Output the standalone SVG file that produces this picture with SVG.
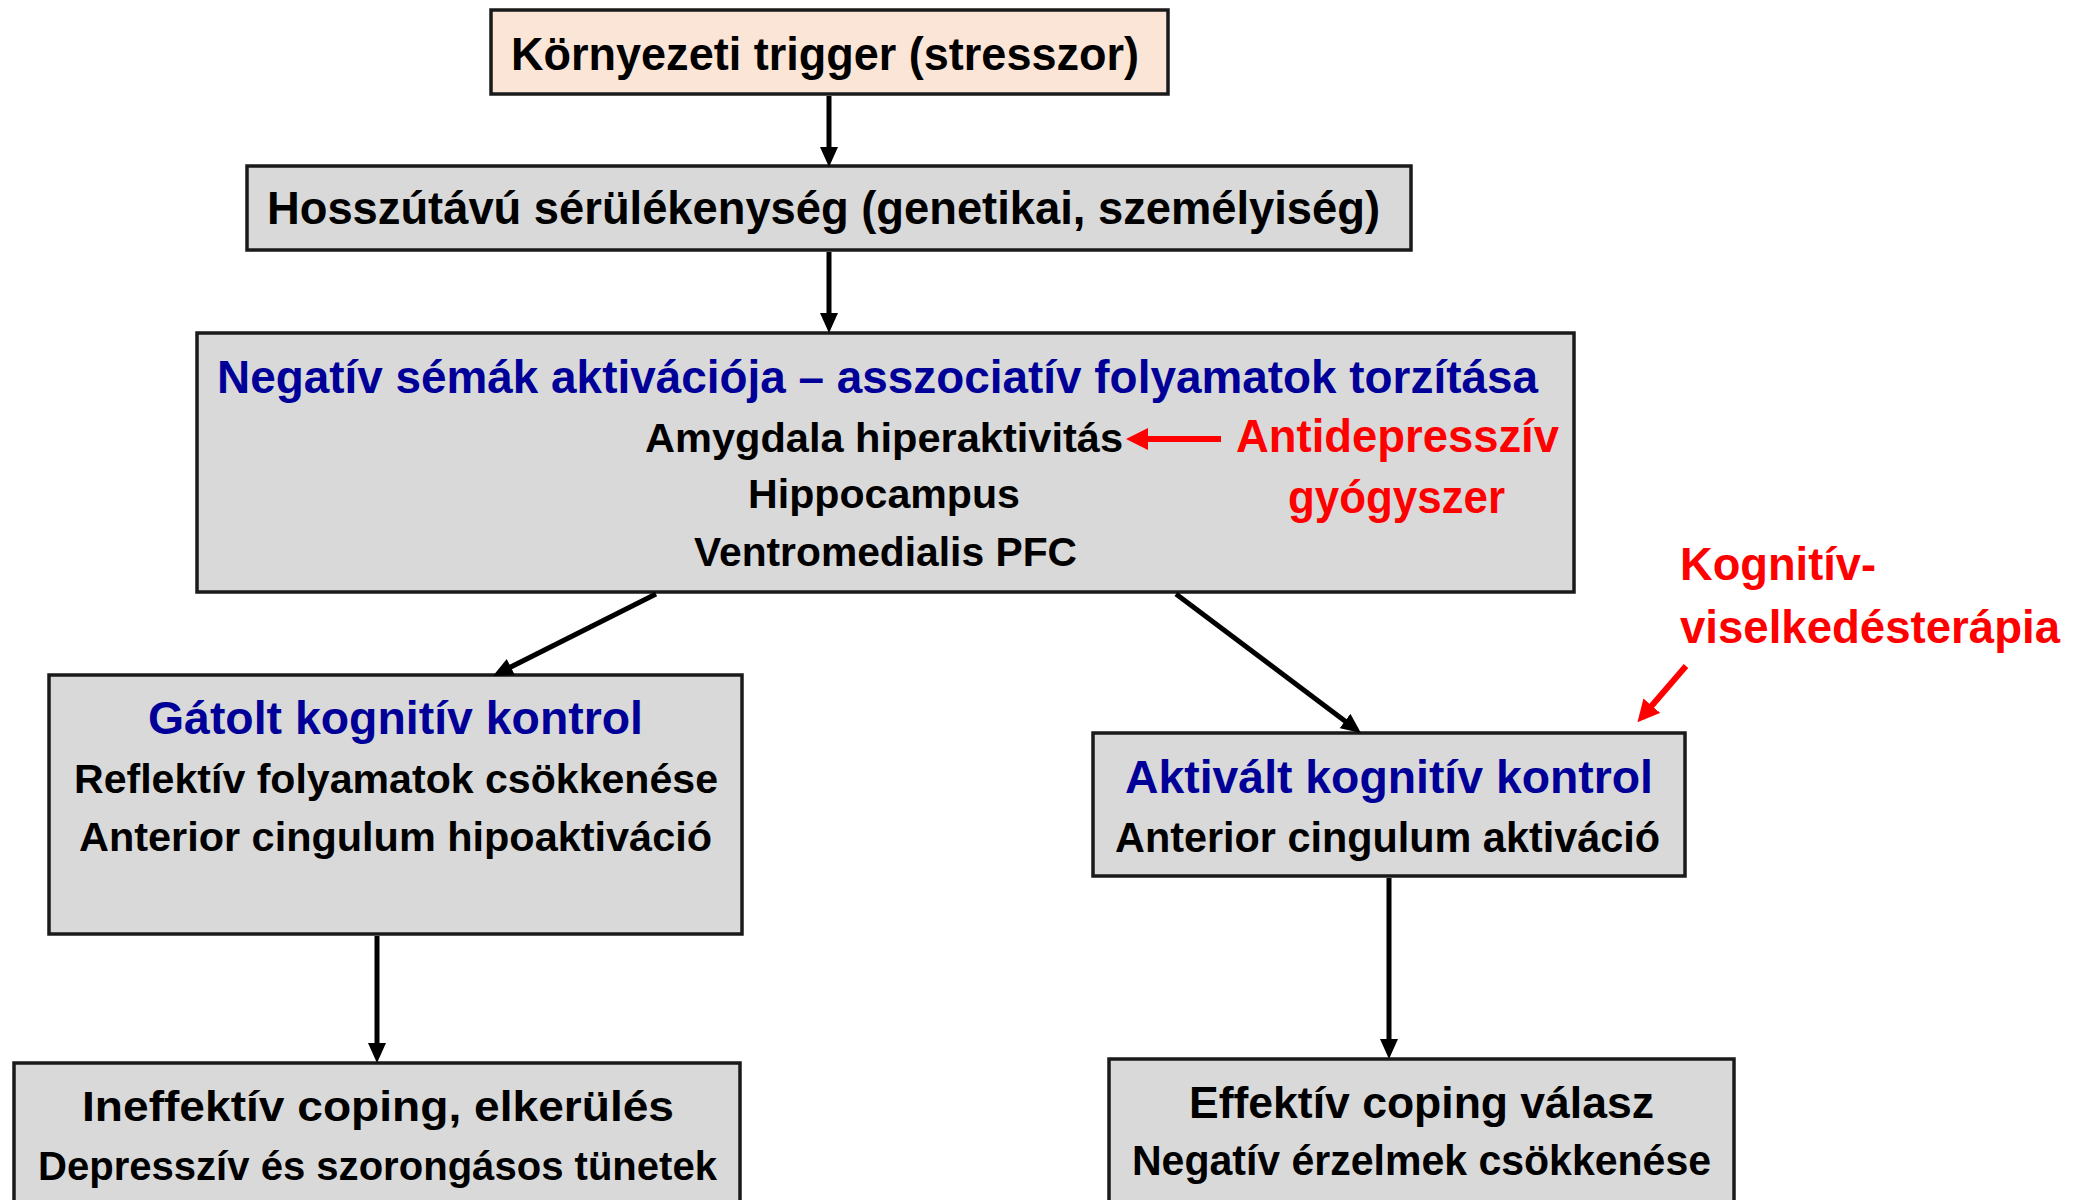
<svg xmlns="http://www.w3.org/2000/svg" width="2091" height="1200" viewBox="0 0 2091 1200">
<style>
  .box { fill: #D9D9D9; stroke: #1a1a1a; stroke-width: 3.5; }
  .peach { fill: #FBE5D6; }
  text { font-family: "Liberation Sans", Arial, sans-serif; font-weight: bold; }
  .k { fill: #000000; }
  .b { fill: #000099; }
  .r { fill: #FF0000; }
  .conn { stroke: #000000; stroke-width: 5; fill: none; }
  .red { stroke: #FF0000; stroke-width: 6; fill: none; }
</style>
<defs>
  <marker id="ah" markerUnits="userSpaceOnUse" markerWidth="20" markerHeight="18" refX="14" refY="9" orient="auto">
    <path d="M0,0 L20,9 L0,18 z" fill="#000000"/>
  </marker>
  <marker id="ahr" markerUnits="userSpaceOnUse" markerWidth="22" markerHeight="22" refX="15" refY="11" orient="auto">
    <path d="M0,0 L22,11 L0,22 z" fill="#FF0000"/>
  </marker>
</defs>
<rect width="2091" height="1200" fill="#FFFFFF"/>

<g id="node-trigger">
  <rect class="box peach" x="491" y="10" width="677" height="84"/>
  <text class="k" x="511" y="70" font-size="46" textLength="628" lengthAdjust="spacingAndGlyphs">Környezeti trigger (stresszor)</text>
</g>

<g id="node-vulnerability">
  <rect class="box" x="247" y="166" width="1164" height="84"/>
  <text class="k" x="267" y="224" font-size="46" textLength="1113" lengthAdjust="spacingAndGlyphs">Hosszútávú sérülékenység (genetikai, személyiség)</text>
</g>

<g id="node-schemas">
  <rect class="box" x="197" y="333" width="1377" height="259"/>
  <text class="b" x="217" y="393" font-size="46" textLength="1321" lengthAdjust="spacingAndGlyphs">Negatív sémák aktivációja – asszociatív folyamatok torzítása</text>
  <text class="k" x="645" y="452" font-size="40" textLength="478" lengthAdjust="spacingAndGlyphs">Amygdala hiperaktivitás</text>
  <text class="k" x="748" y="508" font-size="40" textLength="272" lengthAdjust="spacingAndGlyphs">Hippocampus</text>
  <text class="k" x="694" y="566" font-size="40" textLength="383" lengthAdjust="spacingAndGlyphs">Ventromedialis PFC</text>
</g>

<g id="label-antidepressant">
  <text class="r" x="1236" y="452" font-size="46" textLength="323" lengthAdjust="spacingAndGlyphs">Antidepresszív</text>
  <text class="r" x="1288" y="513" font-size="46" textLength="217" lengthAdjust="spacingAndGlyphs">gyógyszer</text>
</g>

<g id="label-cbt">
  <text class="r" x="1680" y="580" font-size="46" textLength="196" lengthAdjust="spacingAndGlyphs">Kognitív-</text>
  <text class="r" x="1680" y="643" font-size="46" textLength="380" lengthAdjust="spacingAndGlyphs">viselkedésterápia</text>
</g>

<g id="node-inhibited">
  <rect class="box" x="49" y="675" width="693" height="259"/>
  <text class="b" x="148" y="734" font-size="46" textLength="495" lengthAdjust="spacingAndGlyphs">Gátolt kognitív kontrol</text>
  <text class="k" x="74" y="793" font-size="41" textLength="644" lengthAdjust="spacingAndGlyphs">Reflektív folyamatok csökkenése</text>
  <text class="k" x="79" y="851" font-size="41" textLength="633" lengthAdjust="spacingAndGlyphs">Anterior cingulum hipoaktiváció</text>
</g>

<g id="node-activated">
  <rect class="box" x="1093" y="733" width="592" height="143"/>
  <text class="b" x="1125" y="793" font-size="46" textLength="528" lengthAdjust="spacingAndGlyphs">Aktivált kognitív kontrol</text>
  <text class="k" x="1115" y="852" font-size="42" textLength="545" lengthAdjust="spacingAndGlyphs">Anterior cingulum aktiváció</text>
</g>

<g id="node-ineffective">
  <rect class="box" x="14" y="1063" width="726" height="150"/>
  <text class="k" x="82" y="1121" font-size="43" textLength="592" lengthAdjust="spacingAndGlyphs">Ineffektív coping, elkerülés</text>
  <text class="k" x="38" y="1180" font-size="41" textLength="679" lengthAdjust="spacingAndGlyphs">Depresszív és szorongásos tünetek</text>
</g>

<g id="node-effective">
  <rect class="box" x="1109" y="1059" width="625" height="154"/>
  <text class="k" x="1189" y="1118" font-size="44" textLength="465" lengthAdjust="spacingAndGlyphs">Effektív coping válasz</text>
  <text class="k" x="1132" y="1175" font-size="43" textLength="579" lengthAdjust="spacingAndGlyphs">Negatív érzelmek csökkenése</text>
</g>

<g id="connectors">
  <line class="conn" x1="829" y1="96" x2="829" y2="161" marker-end="url(#ah)"/>
  <line class="conn" x1="829" y1="252" x2="829" y2="327" marker-end="url(#ah)"/>
  <line class="conn" x1="656" y1="594" x2="498.3" y2="673.3" marker-end="url(#ah)"/>
  <line class="conn" x1="1176" y1="594" x2="1356.2" y2="729.4" marker-end="url(#ah)"/>
  <line class="conn" x1="377" y1="936" x2="377" y2="1057" marker-end="url(#ah)"/>
  <line class="conn" x1="1389" y1="878" x2="1389" y2="1053" marker-end="url(#ah)"/>
  <line class="red" x1="1221" y1="439" x2="1133" y2="439" marker-end="url(#ahr)"/>
  <line class="red" x1="1686" y1="666" x2="1642" y2="717" marker-end="url(#ahr)"/>
</g>
</svg>
